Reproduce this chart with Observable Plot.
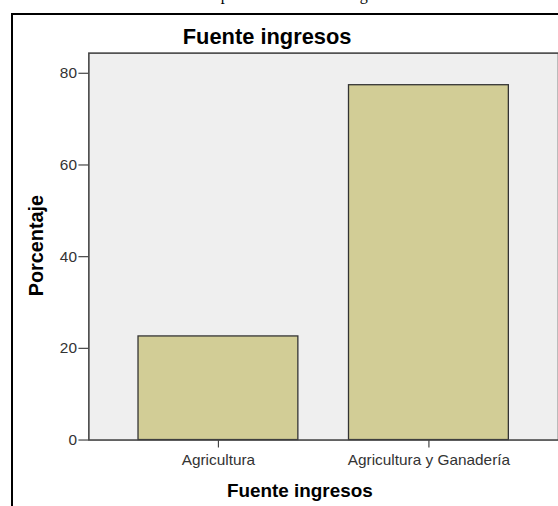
<!DOCTYPE html>
<html>
<head>
<meta charset="utf-8">
<script src="https://cdn.jsdelivr.net/npm/d3@7"></script>
<script src="https://cdn.jsdelivr.net/npm/@observablehq/plot@0.6"></script>
<style>
  html, body { margin: 0; padding: 0; background: #fff; overflow: hidden; width: 558px; height: 506px; }
  #wrap { position: relative; width: 558px; height: 506px; overflow: hidden; }
  #caption { position: absolute; left: 15px; top: -14px; font-family: "Liberation Serif", "Times New Roman", serif; font-size: 16px; color: #000; white-space: nowrap; }
  #border { position: absolute; left: 11px; top: 13px; width: 600px; height: 600px; border-left: 2px solid #000; border-top: 2px solid #000; }
  #chart { position: absolute; left: 0; top: 0; }
</style>
</head>
<body>
<div id="wrap">
  <div id="caption">Gráfico No. 31. La distribución por la fuente de los ingresos de la familia</div>
  <div id="border"></div>
  <div id="chart"></div>
</div>
<script>
const categories = ["Agricultura", "Agricultura y Ganadería"];
const percentages = [22.6, 77.4];
const yTicks = [0, 20, 40, 60, 80];
const titleText = "Fuente ingresos";
const xLabel = "Fuente ingresos";
const yLabel = "Porcentaje";

const data = categories.map((c, i) => ({ category: c, value: percentages[i] }));

const chart = Plot.plot({
  width: 562,
  height: 506,
  marginLeft: 89,
  marginTop: 53,
  marginBottom: 63.3,
  marginRight: 0,
  style: { fontFamily: "'Liberation Sans', Arial, sans-serif", background: "transparent", overflow: "visible" },
  x: { domain: categories, paddingInner: 0.242, paddingOuter: 0.233, label: null },
  y: { domain: [0, 84.4], label: null },
  marks: [
    Plot.frame({ fill: "#efefef", stroke: null }),
    Plot.barY(data, { x: "category", y: "value", fill: "#d2cd96", stroke: "#333", strokeWidth: 1.3 }),
    Plot.frame({ stroke: "#444", strokeWidth: 1.6 }),
    Plot.axisY(yTicks, { tickSize: 10, tickPadding: 2, fontSize: 15.5, color: "#333", stroke: "#444", strokeWidth: 1.2, label: null }),
    Plot.axisX({ tickSize: 8, tickPadding: 6, fontSize: 15.5, color: "#333", stroke: "#444", strokeWidth: 1.2, label: null }),
    Plot.text([titleText], { frameAnchor: "top", lineAnchor: "middle", textAnchor: "middle", dy: -16, dx: -57, fontSize: 22, fontWeight: "bold", fill: "#000", text: d => d }),
    Plot.text([xLabel], { frameAnchor: "bottom", lineAnchor: "middle", textAnchor: "middle", dy: 51.5, dx: -24, fontSize: 19, fontWeight: "bold", fill: "#000", text: d => d }),
    Plot.text([yLabel], { frameAnchor: "left", lineAnchor: "middle", textAnchor: "middle", dx: -53, dy: -1, rotate: -90, fontSize: 20, fontWeight: "bold", fill: "#000", text: d => d })
  ]
});
document.getElementById("chart").appendChild(chart);
</script>
</body>
</html>
